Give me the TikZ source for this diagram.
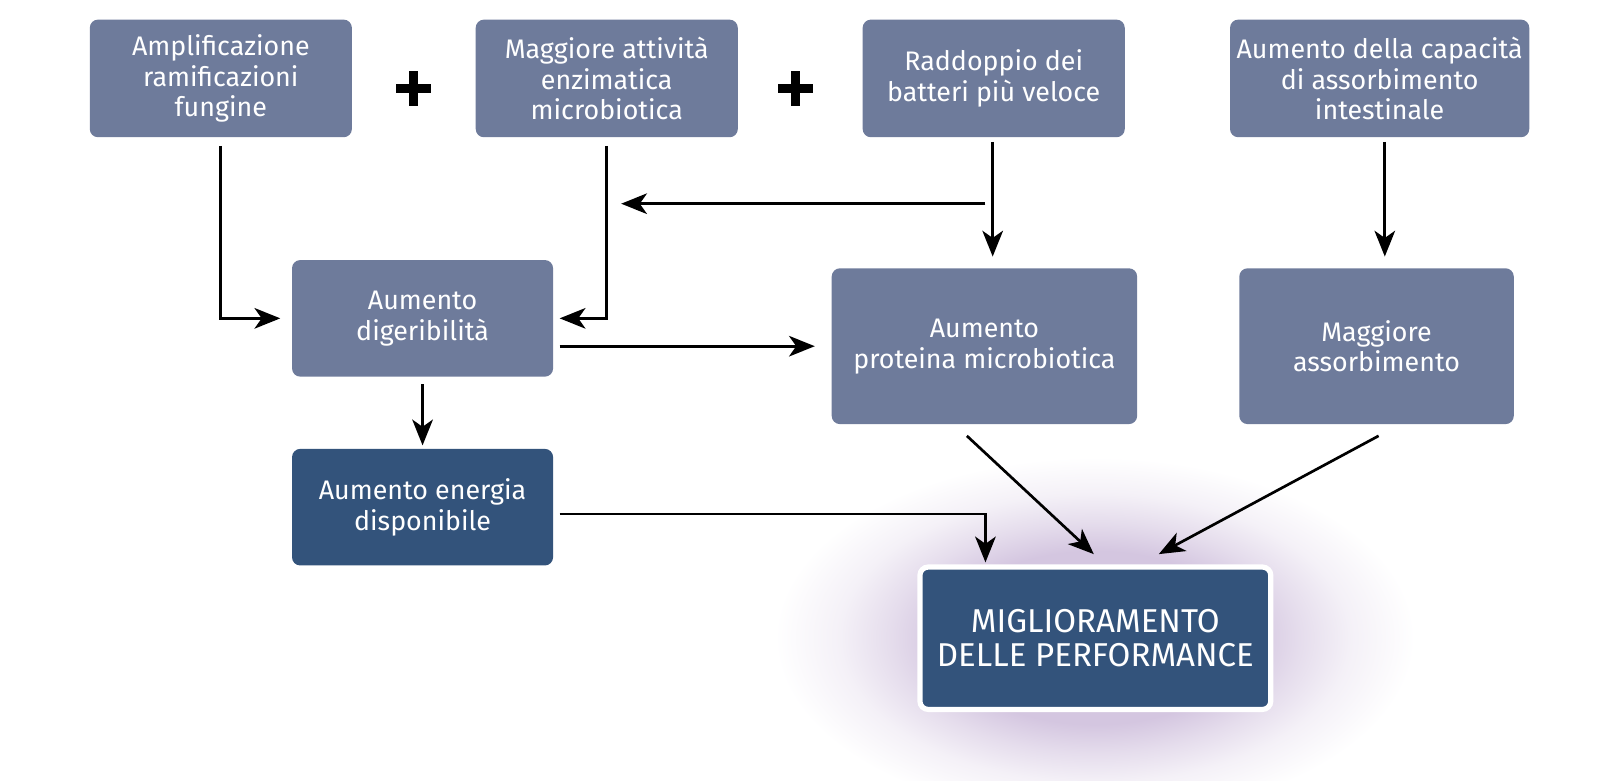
\documentclass[tikz,border=0pt]{standalone}
\usepackage{fontspec}
\setmainfont{Fira Sans}
\usetikzlibrary{arrows.meta,calc}
\definecolor{boxlight}{HTML}{6E7B9B}
\definecolor{boxdark}{HTML}{33537B}
\definecolor{glowc}{HTML}{D4C6E0}
\pgfdeclareradialshading{glowshade}{\pgfpoint{0bp}{0bp}}{color(0bp)=(glowc); color(12bp)=(glowc); color(16bp)=(glowc!60!white); color(20bp)=(glowc!25!white); color(25bp)=(white); color(50bp)=(white)}
\tikzset{
  box/.style={rectangle, rounded corners=4pt, fill=boxlight, text=white, align=center,
    font=\fontsize{13}{15}\selectfont, inner sep=0pt},
  darkbox/.style={box, fill=boxdark},
  arr/.style={-{Stealth[length=12.5pt,width=10pt,inset=3.5pt]}, line width=1.3pt, black},
  plusbar/.style={line width=4.5pt, black}
}
\begin{document}
\begin{tikzpicture}[x=0.5pt,y=-0.5pt]
\useasboundingbox (0,0) rectangle (1568,756);
\begin{scope}
\clip (0,0) rectangle (1568,756);
\shade[shading=glowshade] (1061-310,618-175) rectangle (1061+310,618+175);
\end{scope}
% top row
\node[box, minimum width=127pt, minimum height=57pt] (b1) at (214,76) {Amplificazione\\ramificazioni\\fungine};
\node[box, minimum width=127pt, minimum height=57pt] (b2) at (588,76) {Maggiore attività\\enzimatica\\microbiotica};
\node[box, minimum width=127pt, minimum height=57pt] (b3) at (963,76) {Raddoppio dei\\batteri più veloce};
\node[box, minimum width=145pt, minimum height=57pt] (b4) at (1337,76) {Aumento della capacità\\di assorbimento\\intestinale};
% plus signs
\draw[plusbar] (384,86) -- (418,86) (401,69) -- (401,103);
\draw[plusbar] (754,86) -- (788,86) (771,69) -- (771,103);
% middle row
\node[box, minimum width=126.5pt, minimum height=56.5pt] (b5) at (409.5,308.5) {Aumento\\digeribilità};
\node[box, minimum width=148pt, minimum height=75.5pt] (b6) at (954,335.5) {Aumento\\proteina microbiotica};
\node[box, minimum width=133pt, minimum height=75.5pt] (b7) at (1334,335.5) {Maggiore\\assorbimento};
\node[darkbox, minimum width=126.5pt, minimum height=56.5pt] (b8) at (409.5,491.5) {Aumento energia\\disponibile};
\node[darkbox, draw=white, line width=2.5pt, minimum width=170pt, minimum height=69pt,
  font=\fontsize{16}{16.5}\selectfont] (b9) at (1061.5,618.5) {MIGLIORAMENTO\\DELLE PERFORMANCE};
% connectors
\draw[arr, shorten <=4pt, shorten >=5.5pt] (b1.south) |- (b5.west);
\draw[arr, shorten <=4pt, shorten >=3pt] (b2.south) |- (b5.east);
\draw[arr] ($(b3.south)+(-8,64)$) coordinate (c3s) -- ($(b2.south)+(14,64)$) coordinate (c3e);
\draw[arr, shorten >=5.5pt] ($(b3.south)+(-1,4)$) coordinate (c4s) -- (c4s |- b6.north);
\draw[arr, shorten <=3pt, shorten >=8pt] (b5.east |- b6.west) -- (b6.west);
\draw[arr, shorten <=3.5pt, shorten >=1.5pt] (b5.south) -- (b8.north);
\draw[arr, shorten >=1pt] ($(b8.east)+(6,6.5)$) coordinate (c7s) -| ($(b9.north)+(-106.5,0)$);
\draw[arr] ($(b6.south)+(-17,11)$) coordinate (c8s) -- ($(b9.north)+(-1.5,-10)$) coordinate (c8e);
\draw[arr] ($(b7.south)+(2,11)$) coordinate (c9s) -- ($(b9.north)+(61.5,-10)$) coordinate (c9e);
\draw[arr, shorten >=5.5pt] ($(b4.south)+(5,4)$) coordinate (c10s) -- (c10s |- b7.north);
\end{tikzpicture}
\end{document}
